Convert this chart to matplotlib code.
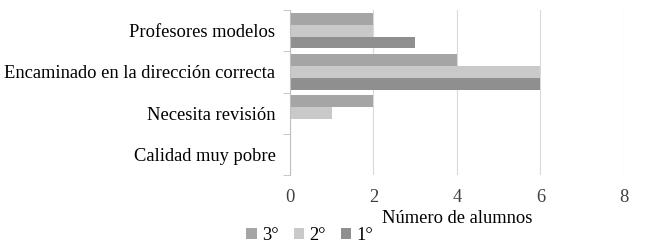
import matplotlib

matplotlib.use("Agg")
import matplotlib.pyplot as plt  # noqa: E402
import numpy as np  # noqa: E402

categories = ["Profesores modelos", "Encaminado en la dirección correcta",
              "Necesita revisión", "Calidad muy pobre"]
series = ["3°", "2°", "1°"]
tercero = [2, 4, 2, 0]
segundo = [2, 6, 1, 0]
primero = [3, 6, 0, 0]
colors = ["#a5a5a5", "#c9c9c9", "#8f8f8f"]

plt.rcParams["font.family"] = ["Liberation Serif", "DejaVu Serif"]
fs = 13.3

fig = plt.figure(figsize=(6.64, 2.47), dpi=100)
ax = fig.add_axes([0.4367, 0.2915, 0.503, 0.668])

n = len(categories)
pos = np.arange(n)[::-1].astype(float)  # top category first
h = 0.285
for i, (vals, c, lab) in enumerate(zip([tercero, segundo, primero], colors, series)):
    ax.barh(pos + h - i * h, vals, height=h, color=c, label=lab, zorder=2)

ax.set_xlim(0, 8)
ax.set_ylim(-0.5, n - 0.5)
ax.set_xticks([0, 2, 4, 6, 8])
ax.set_yticks(pos)
ax.set_yticklabels(categories)
ax.set_yticks(np.arange(n + 1) - 0.5, minor=True)
ax.tick_params(axis="y", which="major", length=0, pad=10.5, labelsize=fs)
ax.tick_params(axis="y", which="minor", length=5, color="#bfbfbf")
ax.tick_params(axis="x", length=0, pad=10, labelsize=fs, labelcolor="#404040")
ax.grid(axis="x", color="#d9d9d9", lw=0.8, zorder=0)
for s in ["top", "right", "bottom"]:
    ax.spines[s].set_visible(False)
ax.spines["left"].set_color("#bfbfbf")

ax.set_xlabel("Número de alumnos", fontsize=fs, labelpad=3)

handles, labels = ax.get_legend_handles_labels()
fig.legend(handles, labels, loc="center left", bbox_to_anchor=(0.36, 0.045),
           ncol=3, frameon=False, fontsize=fs, handlelength=0.55, handleheight=0.55,
           handletextpad=0.3, columnspacing=0.8, borderaxespad=0)

fig.savefig("out.png", dpi=100)
